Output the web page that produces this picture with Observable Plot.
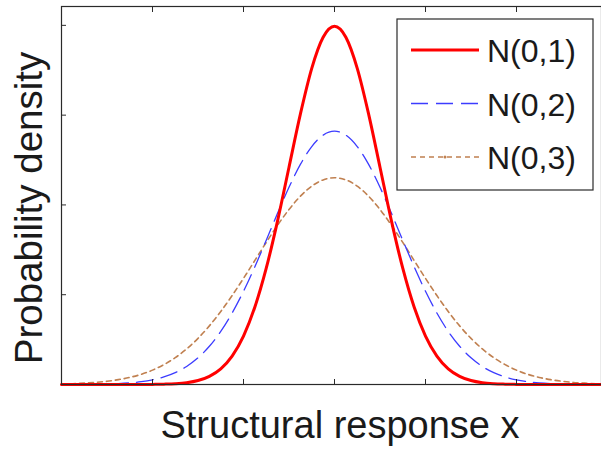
<!DOCTYPE html>
<html>
<head>
<meta charset="utf-8">
<script src="https://cdn.jsdelivr.net/npm/d3@7"></script>
<script src="https://cdn.jsdelivr.net/npm/@observablehq/plot@0.6"></script>
<style>
  html, body { margin: 0; padding: 0; background: #fff; }
  #chart svg { display: block; }
</style>
</head>
<body>
<div id="chart"></div>
<script>
// Sample grid along the structural response axis
const xs = [
  -6, -5.75, -5.5, -5.25, -5, -4.75, -4.5, -4.25, -4, -3.75, -3.5, -3.25,
  -3, -2.75, -2.5, -2.25, -2, -1.75, -1.5, -1.25, -1, -0.75, -0.5, -0.25,
  0,
  0.25, 0.5, 0.75, 1, 1.25, 1.5, 1.75, 2, 2.25, 2.5, 2.75, 3,
  3.25, 3.5, 3.75, 4, 4.25, 4.5, 4.75, 5, 5.25, 5.5, 5.75, 6
];

// Probability density of each distribution at those points
const n01 = [
  0, 0, 0, 0, 0, 0, 0, 0, 0.0001, 0.0004, 0.0009, 0.0020,
  0.0044, 0.0091, 0.0175, 0.0317, 0.0540, 0.0863, 0.1295, 0.1826, 0.2420, 0.3011, 0.3521, 0.3867,
  0.3989,
  0.3867, 0.3521, 0.3011, 0.2420, 0.1826, 0.1295, 0.0863, 0.0540, 0.0317, 0.0175, 0.0091, 0.0044,
  0.0020, 0.0009, 0.0004, 0.0001, 0, 0, 0, 0, 0, 0, 0, 0
];
const n02 = [
  0.0000, 0.0001, 0.0001, 0.0003, 0.0005, 0.0010, 0.0018, 0.0031, 0.0052, 0.0084, 0.0132, 0.0201,
  0.0297, 0.0426, 0.0591, 0.0796, 0.1038, 0.1312, 0.1607, 0.1909, 0.2197, 0.2451, 0.2650, 0.2777,
  0.2821,
  0.2777, 0.2650, 0.2451, 0.2197, 0.1909, 0.1607, 0.1312, 0.1038, 0.0796, 0.0591, 0.0426, 0.0297,
  0.0201, 0.0132, 0.0084, 0.0052, 0.0031, 0.0018, 0.0010, 0.0005, 0.0003, 0.0001, 0.0001, 0.0000
];
const n03 = [
  0.0006, 0.0009, 0.0015, 0.0023, 0.0036, 0.0054, 0.0079, 0.0113, 0.0160, 0.0221, 0.0299, 0.0396,
  0.0514, 0.0653, 0.0813, 0.0991, 0.1182, 0.1382, 0.1583, 0.1775, 0.1949, 0.2097, 0.2209, 0.2279,
  0.2303,
  0.2279, 0.2209, 0.2097, 0.1949, 0.1775, 0.1583, 0.1382, 0.1182, 0.0991, 0.0813, 0.0653, 0.0514,
  0.0396, 0.0299, 0.0221, 0.0160, 0.0113, 0.0079, 0.0054, 0.0036, 0.0023, 0.0015, 0.0009, 0.0006
];

const seriesNames = ["N(0,1)", "N(0,2)", "N(0,3)"];
const xTicks = [-4, -2, 0, 2, 4];
const yTicks = [0.1, 0.2, 0.3, 0.4];

const xLabel = "Structural response x";
const yLabel = "Probability density";

const styles = {
  "N(0,1)": {stroke: "#ff0000", strokeWidth: 3, dash: null},
  "N(0,2)": {stroke: "#3c3cff", strokeWidth: 1.3, dash: "17,8"},
  "N(0,3)": {stroke: "#c08050", strokeWidth: 1.6, dash: "5,4"}
};

const toRows = (name, ys) => xs.map((x, i) => ({x, y: ys[i], name}));
const rows1 = toRows(seriesNames[0], n01);
const rows2 = toRows(seriesNames[1], n02);
const rows3 = toRows(seriesNames[2], n03);

const font = "'Liberation Sans', Arial, Helvetica, sans-serif";
const axisColor = "#2a2a2a";
const textColor = "#1a1a1a";

const curve = (rows, name) => Plot.line(rows, {
  x: "x", y: "y",
  curve: "monotone-x",
  stroke: styles[name].stroke,
  strokeWidth: styles[name].strokeWidth,
  strokeDasharray: styles[name].dash,
  strokeLinejoin: "round"
});

const plot = Plot.plot({
  width: 601,
  height: 452,
  marginLeft: 61,
  marginTop: 6,
  marginRight: 0,
  marginBottom: 68,
  x: {domain: [-6, 6], range: [61, 607]},
  y: {domain: [0, 0.421], range: [384, 6]},
  style: {fontFamily: font, background: "#fff", overflow: "hidden"},
  marks: [
    curve(rows3, seriesNames[2]),
    curve(rows2, seriesNames[1]),
    curve(rows1, seriesNames[0]),
    Plot.frame({stroke: axisColor, strokeWidth: 1.2}),
    Plot.axisX(xTicks, {anchor: "bottom", tickSize: -5, tickFormat: () => "", label: null, stroke: axisColor}),
    Plot.axisX(xTicks, {anchor: "top", tickSize: -5, tickFormat: () => "", label: null, stroke: axisColor}),
    Plot.axisY(yTicks, {anchor: "left", tickSize: -5, tickFormat: () => "", label: null, stroke: axisColor})
  ]
});

document.getElementById("chart").appendChild(plot);

// Axis titles
const svg = d3.select(plot);
svg.append("text")
  .attr("x", 340).attr("y", 438)
  .attr("text-anchor", "middle")
  .attr("font-family", font).attr("font-size", 38)
  .attr("fill", textColor)
  .text(xLabel);
svg.append("text")
  .attr("transform", "translate(42,208) rotate(-90)")
  .attr("text-anchor", "middle")
  .attr("font-family", font).attr("font-size", 38.5)
  .attr("fill", textColor)
  .text(yLabel);

// Legend box with one sample line per distribution
const lg = svg.append("g").attr("transform", "translate(397,19)");
lg.append("rect")
  .attr("width", 196).attr("height", 171)
  .attr("fill", "#fff").attr("stroke", axisColor).attr("stroke-width", 1.2);
seriesNames.forEach((name, i) => {
  const cy = 31 + i * 53.5;
  const s = styles[name];
  lg.append("line")
    .attr("x1", 14).attr("x2", 82).attr("y1", cy).attr("y2", cy)
    .attr("stroke", s.stroke).attr("stroke-width", s.strokeWidth)
    .attr("stroke-dasharray", s.dash);
  if (i === 2) {
    lg.append("circle").attr("cx", 48).attr("cy", cy).attr("r", 1.5).attr("fill", s.stroke);
  }
  lg.append("text")
    .attr("x", 90).attr("y", cy + 12)
    .attr("text-anchor", "start")
    .attr("font-family", font).attr("font-size", 32)
    .attr("fill", textColor)
    .text(name);
});
</script>
</body>
</html>
